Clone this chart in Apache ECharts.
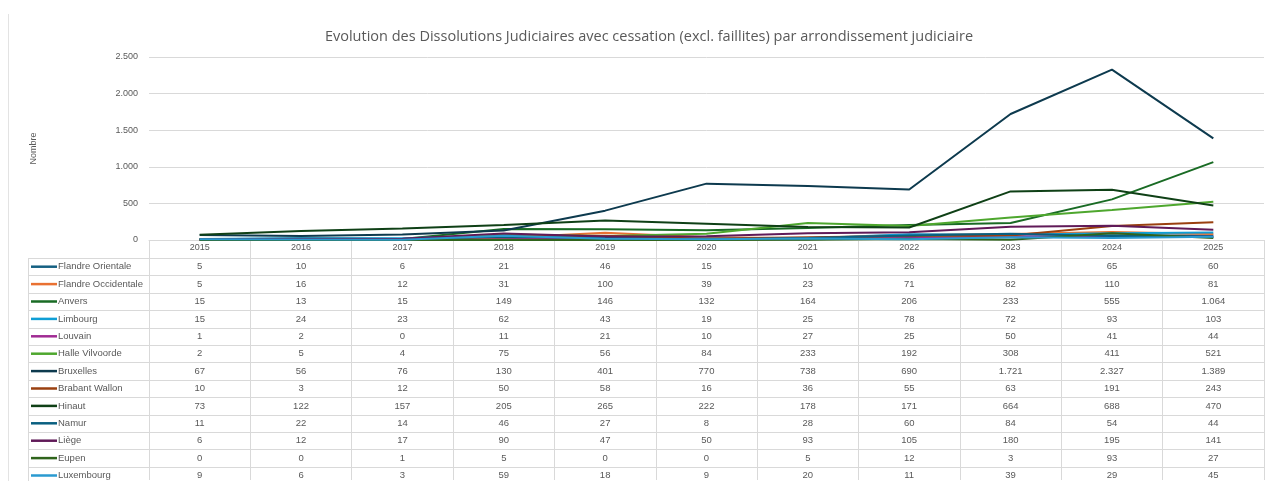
<!DOCTYPE html>
<html>
<head>
<meta charset="utf-8">
<script src="https://cdn.jsdelivr.net/npm/echarts@6/dist/echarts.min.js"></script>
<style>
  html, body { margin: 0; padding: 0; background: #fff; }
  #chart { width: 1266px; height: 481px; }
</style>
</head>
<body>
<div id="chart"></div>
<script>
// years on the x axis
const years = ['2015', '2016', '2017', '2018', '2019', '2020', '2021', '2022', '2023', '2024', '2025']

// one array per arrondissement judiciaire
const flandreOrientale = [5, 10, 6, 21, 46, 15, 10, 26, 38, 65, 60]
const flandreOccidentale = [5, 16, 12, 31, 100, 39, 23, 71, 82, 110, 81]
const anvers = [15, 13, 15, 149, 146, 132, 164, 206, 233, 555, 1064]
const limbourg = [15, 24, 23, 62, 43, 19, 25, 78, 72, 93, 103]
const louvain = [1, 2, 0, 11, 21, 10, 27, 25, 50, 41, 44]
const halleVilvoorde = [2, 5, 4, 75, 56, 84, 233, 192, 308, 411, 521]
const bruxelles = [67, 56, 76, 130, 401, 770, 738, 690, 1721, 2327, 1389]
const brabantWallon = [10, 3, 12, 50, 58, 16, 36, 55, 63, 191, 243]
const hinaut = [73, 122, 157, 205, 265, 222, 178, 171, 664, 688, 470]
const namur = [11, 22, 14, 46, 27, 8, 28, 60, 84, 54, 44]
const liege = [6, 12, 17, 90, 47, 50, 93, 105, 180, 195, 141]
const eupen = [0, 0, 1, 5, 0, 0, 5, 12, 3, 93, 27]
const luxembourg = [9, 6, 3, 59, 18, 9, 20, 11, 39, 29, 45]

const names = ['Flandre Orientale', 'Flandre Occidentale', 'Anvers', 'Limbourg', 'Louvain', 'Halle Vilvoorde',
  'Bruxelles', 'Brabant Wallon', 'Hinaut', 'Namur', 'Liège', 'Eupen', 'Luxembourg']
const values = [flandreOrientale, flandreOccidentale, anvers, limbourg, louvain, halleVilvoorde,
  bruxelles, brabantWallon, hinaut, namur, liege, eupen, luxembourg]
const colors = ['#156082', '#E97132', '#196B24', '#0F9ED5', '#A02B93', '#4EA72E',
  '#0D3A4E', '#9A4010', '#0F4016', '#095F80', '#601A58', '#2F641C', '#2A9AD0']

const textColor = '#595959'
const lineColor = '#d9d9d9'
const font = '9.5px "Liberation Sans", Arial, sans-serif'

// 1.064 style thousands separator
const fmt = (v) => String(v).replace(/\B(?=(\d{3})+(?!\d))/g, '.')

const chart = echarts.init(document.getElementById('chart'))

chart.setOption({
  animation: false,
  title: {
    text: 'Evolution des Dissolutions Judiciaires avec cessation (excl. faillites) par arrondissement judiciaire',
    left: 644,
    textAlign: 'center',
    top: 24,
    textStyle: { fontSize: 14.5, fontWeight: 'normal', color: textColor, fontFamily: '"Open Sans", sans-serif' }
  },
  legend: { show: false },
  grid: { left: 149, right: 2, top: 57, bottom: 241 },
  xAxis: {
    type: 'category',
    boundaryGap: true,
    data: years,
    axisLine: { lineStyle: { color: lineColor } },
    axisTick: { show: true, interval: 0, length: 240, lineStyle: { color: lineColor } },
    axisLabel: { margin: 3, fontSize: 9, color: textColor, fontFamily: '"Liberation Sans", Arial' }
  },
  yAxis: {
    type: 'value',
    min: 0,
    max: 2500,
    interval: 500,
    name: 'Nombre',
    nameLocation: 'middle',
    nameGap: 111,
    nameTextStyle: { fontSize: 9, color: textColor },
    axisLabel: { margin: 11, fontSize: 9, color: textColor, formatter: fmt, fontFamily: '"Liberation Sans", Arial' },
    splitLine: { lineStyle: { color: lineColor } }
  },
  series: names.map((n, i) => ({
    name: n,
    type: 'line',
    data: values[i],
    symbol: 'none',
    lineStyle: { width: 2, color: colors[i] },
    itemStyle: { color: colors[i] }
  }))
})

// data table under the plot, columns follow the x axis
const rowTop = 258
const rowH = 17.4
const tableLeft = 28
const tableRight = 1264
const g = []

g.push({ type: 'line', silent: true, shape: { x1: 8.5, y1: 14, x2: 8.5, y2: 481 }, style: { stroke: '#e3e3e3', lineWidth: 1 } })
g.push({ type: 'line', silent: true, shape: { x1: tableLeft + 0.5, y1: rowTop, x2: tableLeft + 0.5, y2: 481 }, style: { stroke: lineColor, lineWidth: 1 } })
for (let r = 0; r <= names.length; r++) {
  const y = Math.round(rowTop + r * rowH) + 0.5
  g.push({ type: 'line', silent: true, shape: { x1: tableLeft, y1: y, x2: tableRight, y2: y }, style: { stroke: lineColor, lineWidth: 1 } })
}

names.forEach((n, r) => {
  const cy = rowTop + r * rowH + rowH / 2
  g.push({ type: 'line', silent: true, shape: { x1: 31, y1: cy, x2: 57, y2: cy }, style: { stroke: colors[r], lineWidth: 2.5 } })
  g.push({ type: 'text', silent: true, style: { x: 58, y: cy, text: n, font: font, fill: textColor, textAlign: 'left', textVerticalAlign: 'middle' } })
  values[r].forEach((v, c) => {
    const cx = chart.convertToPixel({ xAxisIndex: 0 }, c)
    g.push({ type: 'text', silent: true, style: { x: cx, y: cy, text: fmt(v), font: font, fill: textColor, textAlign: 'center', textVerticalAlign: 'middle' } })
  })
})

chart.setOption({ graphic: g })
</script>
</body>
</html>
